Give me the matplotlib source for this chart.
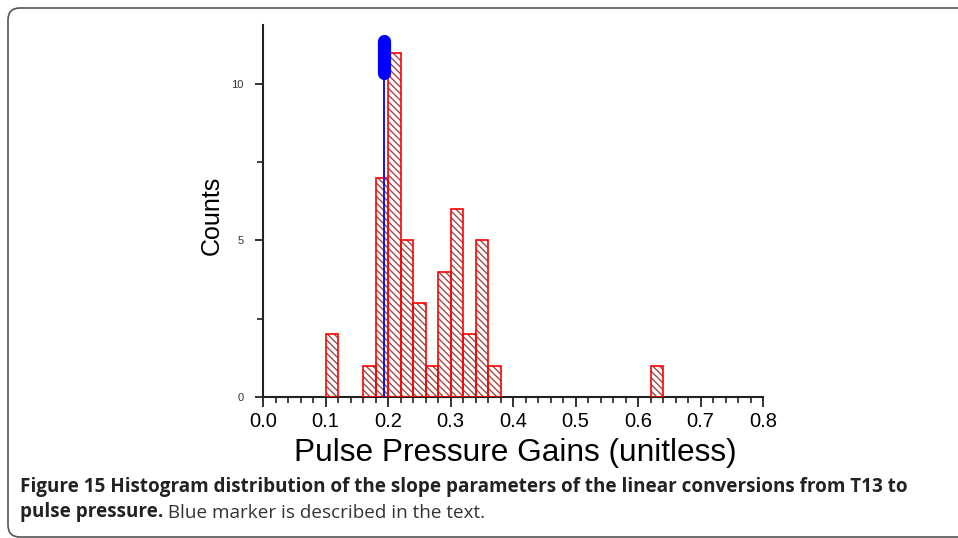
import matplotlib.pyplot as plt
from matplotlib.patches import FancyBboxPatch
from matplotlib.transforms import IdentityTransform
from matplotlib.ticker import MultipleLocator

# histogram bins (left edges) and counts
bin_starts = [0.10, 0.16, 0.18, 0.20, 0.22, 0.24, 0.26, 0.28, 0.30, 0.32, 0.34, 0.36, 0.62]
counts = [2, 1, 7, 11, 5, 3, 1, 4, 6, 2, 5, 1, 1]
bin_width = 0.02

# blue marker
marker_x = 0.194
marker_line_top = 10.3
marker_blob = [10.34, 11.36]

x_ticks = [0.0, 0.1, 0.2, 0.3, 0.4, 0.5, 0.6, 0.7, 0.8]
y_ticks = [0, 5, 10]

caption_bold = 'Figure 15 Histogram distribution of the slope parameters of the linear conversions from T13 to'
caption_bold2 = 'pulse pressure.'
caption_rest = ' Blue marker is described in the text.'


def make_plot() -> None:
    fig = plt.figure(figsize=(9.58, 5.38), dpi=100)
    ax = fig.add_axes([263 / 958, 1 - 397 / 538, 500 / 958, 372.5 / 538])

    hatch_color = '#a04a4a'
    plt.rcParams['hatch.linewidth'] = 1.0
    ax.bar(bin_starts, counts, bin_width, align='edge', facecolor='white',
           edgecolor=hatch_color, linewidth=0, hatch='\\\\\\\\\\', zorder=2)
    ax.bar(bin_starts, counts, bin_width, align='edge', fill=False,
           edgecolor='red', linewidth=1.2, zorder=3)

    ax.plot([marker_x, marker_x], [0, marker_line_top], color='blue', lw=1.3, zorder=4)
    ax.plot([marker_x, marker_x], marker_blob, color='blue', lw=9.5,
            solid_capstyle='round', zorder=5)

    ax.set_xlim(0, 0.8)
    ax.set_ylim(0, 11.9)
    ax.set_xticks(x_ticks)
    ax.set_xticklabels([f'{t:.1f}' for t in x_ticks], fontsize=14.5, family='Liberation Sans')
    ax.set_yticks(y_ticks)
    ax.set_yticklabels([str(t) for t in y_ticks], fontsize=8, family='Liberation Sans', color='#333333')
    ax.xaxis.set_minor_locator(MultipleLocator(0.02))
    ax.yaxis.set_minor_locator(MultipleLocator(2.5))
    ax.tick_params(axis='x', which='major', length=7, width=1.3, pad=4, color='#222222')
    ax.tick_params(axis='x', which='minor', length=4, width=1.2, color='#222222')
    ax.tick_params(axis='y', which='major', length=6, width=1.3, pad=8, color='#222222')
    ax.tick_params(axis='y', which='minor', length=4, width=1.2, color='#222222')

    for side in ('top', 'right'):
        ax.spines[side].set_visible(False)
    for side in ('left', 'bottom'):
        ax.spines[side].set_linewidth(1.5)
        ax.spines[side].set_color('#222222')

    fig.text(515 / 958, 1 - 453 / 538, 'Pulse Pressure Gains (unitless)', fontsize=22.8,
             family='Liberation Sans', ha='center', va='center')
    fig.text(212 / 958, 1 - 215 / 538, 'Counts', fontsize=18, family='Liberation Sans',
             rotation=90, ha='center', va='center')

    cap_font = ['Open Sans', 'DejaVu Sans']
    fig.text(20 / 958, 1 - 487 / 538, caption_bold, fontsize=13.6, fontweight='bold',
             family=cap_font, va='center', color='#222222')
    t2 = fig.text(20 / 958, 1 - 512 / 538, caption_bold2, fontsize=13.6, fontweight='bold',
                  family=cap_font, va='center', color='#222222')
    ax.annotate(caption_rest, xy=(1, 0), xycoords=t2, va='bottom', ha='left',
                fontsize=13.6, family=cap_font, color='#333333', annotation_clip=False)

    frame = FancyBboxPatch((8, 1), 980, 529, boxstyle='round,pad=0,rounding_size=12',
                           transform=IdentityTransform(), fill=False,
                           edgecolor='#555555', linewidth=1.2)
    fig.patches.append(frame)

    fig.savefig('out.png', dpi=100)
    plt.close(fig)


if __name__ == '__main__':
    make_plot()
